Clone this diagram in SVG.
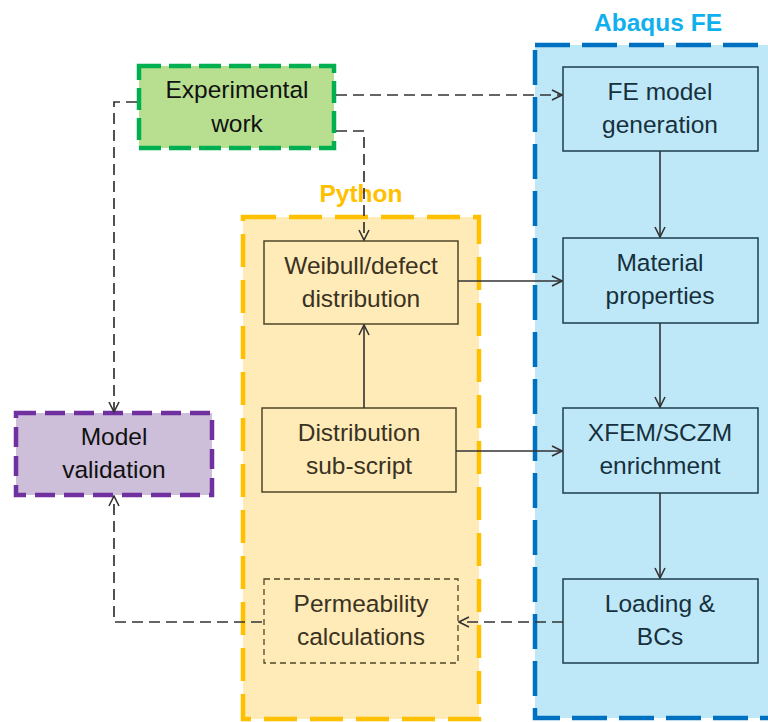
<svg xmlns="http://www.w3.org/2000/svg" width="768" height="722" viewBox="0 0 768 722">
  <defs>
    <style>
      .lbl { font-family: "Liberation Sans", Arial, sans-serif; font-size: 24.5px; text-anchor: middle; }
      .title { font-family: "Liberation Sans", Arial, sans-serif; font-size: 24.5px; font-weight: bold; text-anchor: middle; }
      .py-box { fill: #FFEBB8; stroke: #4F4527; stroke-width: 1.5; }
      .fe-box { fill: #BEE8F8; stroke: #1D3E4C; stroke-width: 1.5; }
      .py-txt { fill: #3A3222; }
      .fe-txt { fill: #16303C; }
      .solid { fill: none; stroke: #333; stroke-width: 1.6; }
      .dash { fill: none; stroke: #333; stroke-width: 1.7; stroke-dasharray: 11 6; }
    </style>
    <marker id="arrow" viewBox="0 0 12 12" refX="11" refY="6" markerWidth="12" markerHeight="12" markerUnits="userSpaceOnUse" orient="auto">
      <path d="M1 1 L11 6 L1 11" fill="none" stroke="#333" stroke-width="1.6"/>
    </marker>
  </defs>

  <!-- Abaqus FE container -->
  <g id="abaqus">
    <rect x="535" y="45" width="240" height="673" fill="#BEE8F8" stroke="#0070C0" stroke-width="4.5" stroke-dasharray="35 12"/>
    <text class="title" x="658" y="31" fill="#10B0EE">Abaqus FE</text>
  </g>

  <!-- Python container -->
  <g id="python">
    <rect x="243" y="217" width="236" height="502" fill="#FFEBB8" stroke="#FFC000" stroke-width="4.5" stroke-dasharray="33 13"/>
    <text class="title" x="361" y="202" fill="#FFC000">Python</text>
  </g>

  <!-- Experimental work -->
  <g id="experimental">
    <rect x="139" y="66" width="195" height="82" fill="#B8DF8F" stroke="#00B050" stroke-width="4.5" stroke-dasharray="22 8"/>
    <text class="lbl" x="237" y="98" fill="#111">Experimental</text>
    <text class="lbl" x="237" y="132" fill="#111">work</text>
  </g>

  <!-- Model validation -->
  <g id="validation">
    <rect x="16" y="413" width="196" height="82" fill="#CDBFDA" stroke="#7030A0" stroke-width="4.5" stroke-dasharray="20 9"/>
    <text class="lbl" x="114" y="445" fill="#111">Model</text>
    <text class="lbl" x="114" y="478" fill="#111">validation</text>
  </g>

  <!-- Python scripts -->
  <g id="weibull">
    <rect class="py-box" x="264" y="241" width="194" height="83"/>
    <text class="lbl py-txt" x="361" y="274">Weibull/defect</text>
    <text class="lbl py-txt" x="361" y="307">distribution</text>
  </g>
  <g id="subscript">
    <rect class="py-box" x="262" y="408" width="194" height="84"/>
    <text class="lbl py-txt" x="359" y="441">Distribution</text>
    <text class="lbl py-txt" x="359" y="474">sub-script</text>
  </g>
  <g id="permeability">
    <rect x="264" y="579" width="194" height="84" fill="#FFEBB8" stroke="#4F4527" stroke-width="1.3" stroke-dasharray="6 4"/>
    <text class="lbl py-txt" x="361" y="612">Permeability</text>
    <text class="lbl py-txt" x="361" y="645">calculations</text>
  </g>

  <!-- Abaqus steps -->
  <g id="fe-model">
    <rect class="fe-box" x="563" y="67" width="195" height="84"/>
    <text class="lbl fe-txt" x="660" y="100">FE model</text>
    <text class="lbl fe-txt" x="660" y="133">generation</text>
  </g>
  <g id="material">
    <rect class="fe-box" x="563" y="238" width="195" height="85"/>
    <text class="lbl fe-txt" x="660" y="271">Material</text>
    <text class="lbl fe-txt" x="660" y="304">properties</text>
  </g>
  <g id="xfem">
    <rect class="fe-box" x="563" y="408" width="195" height="85"/>
    <text class="lbl fe-txt" x="660" y="441">XFEM/SCZM</text>
    <text class="lbl fe-txt" x="660" y="474">enrichment</text>
  </g>
  <g id="loading">
    <rect class="fe-box" x="563" y="579" width="195" height="84"/>
    <text class="lbl fe-txt" x="660" y="612">Loading &amp;</text>
    <text class="lbl fe-txt" x="660" y="645">BCs</text>
  </g>

  <!-- Connectors -->
  <g id="connectors">
    <path class="dash" d="M336 95 H562" marker-end="url(#arrow)"/>
    <path class="dash" d="M336 131 H364 V240" marker-end="url(#arrow)"/>
    <path class="dash" d="M137 102 H114 V412" marker-end="url(#arrow)"/>
    <path class="dash" d="M262 622 H114 V496" marker-end="url(#arrow)"/>
    <path class="dash" d="M563 622 H459" marker-end="url(#arrow)"/>
    <path class="solid" d="M458 281 H562" marker-end="url(#arrow)"/>
    <path class="solid" d="M456 451 H562" marker-end="url(#arrow)"/>
    <path class="solid" d="M364 408 V325" marker-end="url(#arrow)"/>
    <path class="solid" d="M660 151 V237" marker-end="url(#arrow)"/>
    <path class="solid" d="M660 323 V407" marker-end="url(#arrow)"/>
    <path class="solid" d="M660 493 V578" marker-end="url(#arrow)"/>
  </g>
</svg>
